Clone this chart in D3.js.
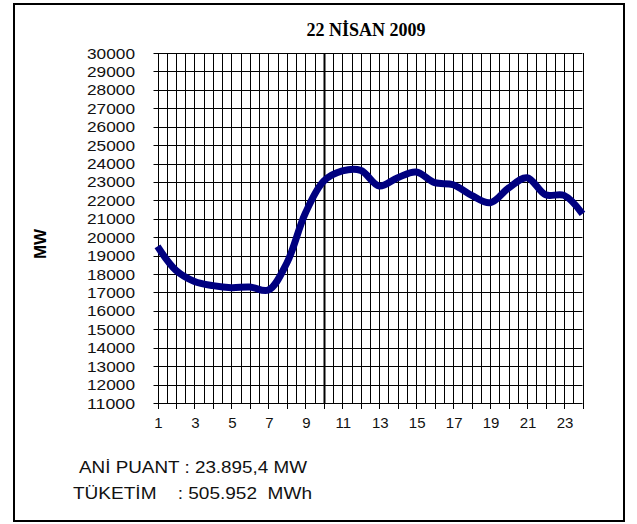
<!DOCTYPE html>
<html><head><meta charset="utf-8">
<script src="https://cdn.jsdelivr.net/npm/d3@7"></script>
<style>
html,body{margin:0;padding:0;background:#fff;}
svg{display:block;}
</style></head>
<body>
<script>
// ---- data ----
const title = "22 NİSAN 2009";
const yAxisTitle = "MW";
const hours = [1,2,3,4,5,6,7,8,9,10,11,12,13,14,15,16,17,18,19,20,21,22,23,24];
const load = [19500,18200,17600,17370,17260,17300,17130,18600,21300,23050,23600,23630,22780,23230,23540,22960,22850,22270,21870,22670,23230,22300,22270,21270];
const yTicks = [11000,12000,13000,14000,15000,16000,17000,18000,19000,20000,21000,22000,23000,24000,25000,26000,27000,28000,29000,30000];
const xTickLabels = [1,3,5,7,9,11,13,15,17,19,21,23];
const markerHour = 10;
const noteLines = ["ANİ PUANT : 23.895,4 MW", "TÜKETİM    : 505.952  MWh"];

const W = 637, H = 524;
const svg = d3.select("body").append("svg").attr("width", W).attr("height", H);

// frame
svg.append("rect").attr("x", 14).attr("y", 4).attr("width", 610).attr("height", 517)
  .attr("fill", "#fff").attr("stroke", "#000").attr("stroke-width", 2);

const x = d3.scaleLinear().domain([1, 24]).range([157.5, 582.5]);
const y = d3.scaleLinear().domain([11000, 30000]).range([403, 53]);

// vertical gridlines every half hour
const halfSteps = d3.range(0, 47).map(i => 1 + i * 0.5);
svg.append("g").selectAll("line").data(halfSteps).join("line")
  .attr("x1", d => Math.round(x(d)) + 0.5).attr("x2", d => Math.round(x(d)) + 0.5)
  .attr("y1", y(30000)).attr("y2", y(11000))
  .attr("stroke", "#000").attr("stroke-width", 1);

// horizontal gridlines
svg.append("g").selectAll("line").data(yTicks).join("line")
  .attr("x1", x(1) - 4).attr("x2", x(24))
  .attr("y1", d => Math.round(y(d)) + 0.5).attr("y2", d => Math.round(y(d)) + 0.5)
  .attr("stroke", "#000").attr("stroke-width", 1);

// bottom tick marks
svg.append("g").selectAll("line").data(hours).join("line")
  .attr("x1", d => Math.round(x(d)) + 0.5).attr("x2", d => Math.round(x(d)) + 0.5)
  .attr("y1", Math.round(y(11000))).attr("y2", Math.round(y(11000)) + 6)
  .attr("stroke", "#000").attr("stroke-width", 1);

// marker line at hour 10
svg.append("line")
  .attr("x1", Math.round(x(markerHour)) + 0.5).attr("x2", Math.round(x(markerHour)) + 0.5)
  .attr("y1", y(30000)).attr("y2", y(11000))
  .attr("stroke", "#000").attr("stroke-width", 2);

// y tick labels
svg.append("g").selectAll("text").data(yTicks).join("text")
  .attr("x", 135).attr("y", d => y(d) + 5.5)
  .attr("text-anchor", "end")
  .attr("font-family", "Liberation Sans, Arial, sans-serif").attr("font-size", 15)
  .attr("textLength", 48).attr("lengthAdjust", "spacingAndGlyphs")
  .attr("fill", "#111")
  .text(d => d);

// x tick labels
svg.append("g").selectAll("text").data(xTickLabels).join("text")
  .attr("x", d => x(d) + 1).attr("y", 428)
  .attr("text-anchor", "middle")
  .attr("font-family", "Liberation Sans, Arial, sans-serif").attr("font-size", 15)
  .attr("fill", "#111")
  .text(d => d);

// line
const line = d3.line().x((d, i) => x(hours[i])).y(d => y(d)).curve(d3.curveCatmullRom.alpha(0.5));
svg.append("path").datum(load).attr("d", line)
  .attr("fill", "none").attr("stroke", "#000080").attr("stroke-width", 7)
  .attr("stroke-linejoin", "round").attr("stroke-linecap", "butt");

// title
svg.append("text").attr("x", 366).attr("y", 36)
  .attr("text-anchor", "middle")
  .attr("font-family", "Liberation Serif, Times New Roman, serif").attr("font-weight", "bold")
  .attr("font-size", 18).attr("fill", "#000")
  .text(title);

// y axis title
svg.append("text").attr("transform", "translate(46,244) rotate(-90)")
  .attr("text-anchor", "middle")
  .attr("font-family", "Liberation Sans, Arial, sans-serif").attr("font-weight", "bold")
  .attr("font-size", 17).attr("fill", "#000")
  .text(yAxisTitle);

// notes
const notePos = [[79, 473, 228], [73, 499, 239]];
svg.append("g").selectAll("text").data(noteLines).join("text")
  .attr("x", (d, i) => notePos[i][0]).attr("y", (d, i) => notePos[i][1])
  .attr("font-family", "Liberation Sans, Arial, sans-serif").attr("font-size", 16)
  .attr("fill", "#111").style("white-space", "pre")
  .attr("textLength", (d, i) => notePos[i][2]).attr("lengthAdjust", "spacingAndGlyphs")
  .text(d => d);
</script>
</body></html>
